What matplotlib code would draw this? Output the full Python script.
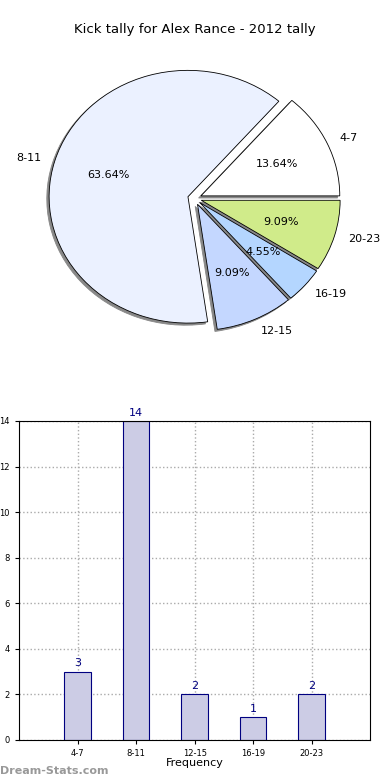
import matplotlib
matplotlib.use("Agg")
import matplotlib.pyplot as plt

categories = ["4-7", "8-11", "12-15", "16-19", "20-23"]
counts = [3, 14, 2, 1, 2]
pie_colors = ["#FFFFFF", "#EBF1FF", "#C4D7FF", "#B4D6FF", "#D0EB8A"]
yticks = [0, 2, 4, 6, 8, 10, 12, 14]
title = "Kick tally for Alex Rance - 2012 tally"

fig = plt.figure(figsize=(3.9, 7.8), dpi=100)

# Pie
ax1 = fig.add_axes([0.054, 0.543, 0.89, 0.405])
wedges, texts, autotexts = ax1.pie(
    counts, labels=categories, colors=pie_colors, explode=[0.05] * len(counts),
    autopct="%.2f%%", startangle=0, counterclock=True,
    shadow=dict(ox=-0.012, oy=-0.012, facecolor="#888888", edgecolor="#888888", alpha=1.0),
    wedgeprops=dict(edgecolor="black", linewidth=0.6),
    textprops=dict(fontsize=8), labeldistance=1.1, pctdistance=0.6)
ax1.set_aspect("auto")
ax1.set_xlim(-1.25, 1.25)
ax1.set_ylim(-1.25, 1.25)
fig.text(0.5, 0.962, title, ha="center", va="center", fontsize=9.5)

# Bars
ax2 = fig.add_axes([0.049, 0.0513, 0.9, 0.409])
x = list(range(len(categories)))
bars = ax2.bar(x, counts, width=0.45, color="#CCCCE5", edgecolor="#000080", linewidth=0.8, zorder=2)
for xi, c in zip(x, counts):
    ax2.text(xi, c + 0.15, str(c), ha="center", va="bottom", color="#000080", fontsize=8)
ax2.set_xlim(-1, 5)
ax2.set_ylim(0, 14)
ax2.set_xticks(x)
ax2.set_xticklabels(categories)
ax2.set_yticks(yticks)
ax2.tick_params(labelsize=6, length=3)
ax2.grid(True, linestyle=":", color="#AAAAAA", linewidth=1, zorder=0)
ax2.set_axisbelow(True)
ax2.set_xlabel("Frequency", fontsize=8, labelpad=0)
ax2.set_ylabel("Total Kick Tally", fontsize=7, labelpad=1)

fig.text(0.0, 0.012, "Dream-Stats.com", fontsize=8, color="#999999", fontweight="bold", ha="left", va="center")

fig.savefig("out.png", dpi=100)
